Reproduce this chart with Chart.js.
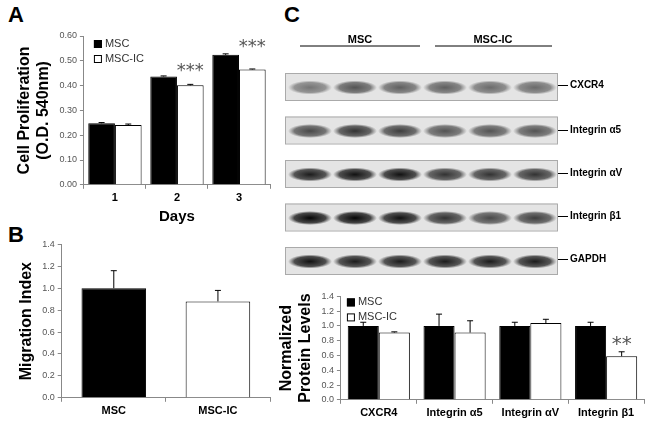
<!DOCTYPE html>
<html><head><meta charset="utf-8">
<script src="https://cdn.jsdelivr.net/npm/chart.js@4"></script>
<style>
body{margin:0;width:650px;height:425px;background:#fff;font-family:Arial,"Liberation Sans",sans-serif;position:relative;overflow:hidden}
.box{position:absolute}
.lt{position:absolute;font-weight:bold;font-size:22px}
.lab{position:absolute;font-size:10px;font-weight:bold;left:570px}
.lab:before{content:"";position:absolute;left:-12px;top:6px;width:10px;border-top:1px solid #000}
</style></head><body>
<div class="lt" style="left:8px;top:2px">A</div>
<div class="lt" style="left:8px;top:222px">B</div>
<div class="lt" style="left:284px;top:2px">C</div>
<div class="box" style="left:0;top:26px;width:275px;height:200px"><canvas id="cA"></canvas></div>
<div class="box" style="left:0;top:236px;width:275px;height:189px"><canvas id="cB"></canvas></div>
<div class="box" style="left:268px;top:288px;width:382px;height:137px"><canvas id="cC"></canvas></div>
<canvas id="blot" class="box" style="left:280px;top:30px" width="290" height="260"></canvas>
<div class="lab" style="top:79px">CXCR4</div>
<div class="lab" style="top:124px">Integrin &alpha;5</div>
<div class="lab" style="top:167px">Integrin &alpha;V</div>
<div class="lab" style="top:210px">Integrin &beta;1</div>
<div class="lab" style="top:253px">GAPDH</div>
<script>
// Panel A
const daysA=['1','2','3'];
const mscA=[0.248,0.437,0.524];
const mscErrA=[0.003,0.002,0.004];
const icA=[0.241,0.401,0.465];
const icErrA=[0.004,0.004,0.002];
// Panel B
const groupsB=['MSC','MSC-IC'];
const migB=[1.0,0.88];
const migErrB=[0.16,0.1];
// Panel C
const proteinsC=['CXCR4','Integrin \u03b15','Integrin \u03b1V','Integrin \u03b21'];
const mscC=[1.0,1.0,1.0,1.0];
const mscErrC=[0.05,0.16,0.05,0.05];
const icC=[0.91,0.91,1.04,0.59];
const icErrC=[0.01,0.16,0.05,0.06];
// Blot band intensities (6 lanes: 3 MSC, 3 MSC-IC)
const blotRows=[[0.5,0.65,0.6,0.6,0.55,0.55],[0.7,0.8,0.75,0.65,0.65,0.65],[0.9,0.95,0.95,0.8,0.8,0.8],[1,1,0.95,0.8,0.7,0.75],[0.95,0.9,0.9,0.9,0.9,0.9]];

Chart.defaults.font.family='Arial, "Liberation Sans", sans-serif';
Chart.defaults.color='#444';
const extras={id:'extras',afterDatasetsDraw(ch,a,o){
  const ctx=ch.ctx,y=ch.scales.y;ctx.save();ctx.strokeStyle='#000';ctx.lineWidth=1;
  ch.data.datasets.forEach((ds,di)=>{const m=ch.getDatasetMeta(di);
    m.data.forEach((b,i)=>{const e=ds.errors[i];if(!e)return;
      const y0=y.getPixelForValue(ds.data[i]),y1=y.getPixelForValue(ds.data[i]+e);
      ctx.beginPath();ctx.moveTo(b.x,y0);ctx.lineTo(b.x,y1);ctx.moveTo(b.x-3,y1);ctx.lineTo(b.x+3,y1);ctx.stroke();});});
  if(o.stars){ctx.fillStyle='#555';ctx.font=(o.starSize||16)+'px "DejaVu Sans"';ctx.textAlign='center';
    o.stars.forEach(s=>{const m2=ch.getDatasetMeta(1).data[s.i];
      ctx.fillText(s.t,m2.x,y.getPixelForValue(s.v));});}
  if(o.legend){const x=ch.chartArea.left+o.legend.dx,t=ch.chartArea.top+o.legend.dy;ctx.font='11px Arial';ctx.textAlign='left';ctx.textBaseline='middle';
    [['MSC','#000'],['MSC-IC','#fff']].forEach((l,k)=>{const yy=t+k*15;ctx.fillStyle=l[1];ctx.fillRect(x,yy-4,8,8);ctx.strokeRect(x+0.5,yy-3.5,7,7);ctx.fillStyle='#333';ctx.fillText(l[0],x+11,yy);});}
  ctx.restore();}};
function mk(id,labels,d1,e1,d2,e2,max,step,ytitle,opt,pad,cat,grouped){
  const ds=[{data:d1,errors:e1,backgroundColor:'#000',borderColor:'#000',borderWidth:1},
            {data:d2,errors:e2,backgroundColor:'#fff',borderColor:'#000',borderWidth:1}];
  const xt=opt.xtitle;
  return new Chart(document.getElementById(id),{type:'bar',data:{labels,datasets:ds},plugins:[extras],
  options:{responsive:true,maintainAspectRatio:false,animation:false,layout:{padding:pad},
   datasets:{bar:{categoryPercentage:cat,barPercentage:1,grouped:grouped}},
   plugins:{legend:{display:false},tooltip:{enabled:false},extras:opt},
   scales:{x:{grid:{display:true,drawOnChartArea:false,tickLength:4,color:'#888',offset:true},border:{color:'#888'},
     ticks:{color:'#000',font:{size:11,weight:'bold'}},title:{display:!!xt,text:xt,color:'#000',font:{size:15,weight:'bold'},padding:0}},
    y:{min:0,max:max,ticks:{stepSize:step,color:'#555',font:{size:9},callback:v=>v.toFixed(max<1?2:1)},
     grid:{drawOnChartArea:false,tickLength:4,color:'#888'},border:{color:'#888'},
     title:{display:true,text:ytitle,color:'#000',font:{size:16,weight:'bold'},padding:3}}}}});
}
mk('cA',daysA,mscA,mscErrA,icA,icErrA,0.6,0.1,['Cell Proliferation','(O.D. 540nm)'],
 {xtitle:'Days',legend:{dx:10,dy:8},stars:[{i:1,v:0.44,t:'***'},{i:2,v:0.535,t:'***'}],starSize:18},{top:10,right:5,left:12},0.86,true);
mk('cB',groupsB,[migB[0],null],[migErrB[0],0],[null,migB[1]],[0,migErrB[1]],1.4,0.2,'Migration Index',
 {},{top:4,right:5,bottom:4,left:14},0.62,false);
mk('cC',proteinsC,mscC,mscErrC,icC,icErrC,1.4,0.2,['Normalized','Protein Levels'],
 {legend:{dx:6,dy:6},stars:[{i:3,v:0.67,t:'**'}],starSize:20},{top:4,right:6,bottom:2,left:6},0.82,true);

// Blot drawing
const bc=document.getElementById('blot').getContext('2d');
bc.strokeStyle='#000';bc.lineWidth=1;
bc.beginPath();bc.moveTo(20,16);bc.lineTo(140,16);bc.moveTo(155,16);bc.lineTo(272,16);bc.stroke();
bc.fillStyle='#000';bc.font='bold 11px Arial';bc.textAlign='center';
bc.fillText('MSC',80,13);bc.fillText('MSC-IC',213,13);
blotRows.forEach((row,r)=>{const top=43+r*43.5,h=27,x0=5,w=272;
  bc.fillStyle='#e4e4e4';bc.fillRect(x0,top,w,h);bc.strokeStyle='#aaa';bc.strokeRect(x0+0.5,top+0.5,w,h);
  row.forEach((v,i)=>{const cx=x0+25+i*45,cy=top+h/2+1;
    const g=bc.createRadialGradient(cx,cy,1,cx,cy,22);const a=v;
    g.addColorStop(0,`rgba(10,10,10,${a})`);g.addColorStop(0.7,`rgba(30,30,30,${a*0.8})`);g.addColorStop(1,'rgba(60,60,60,0)');
    bc.save();bc.translate(cx,cy);bc.scale(1,0.32);bc.translate(-cx,-cy);bc.fillStyle=g;bc.beginPath();bc.arc(cx,cy,22,0,Math.PI*2);bc.fill();bc.restore();});
});
</script></body></html>
